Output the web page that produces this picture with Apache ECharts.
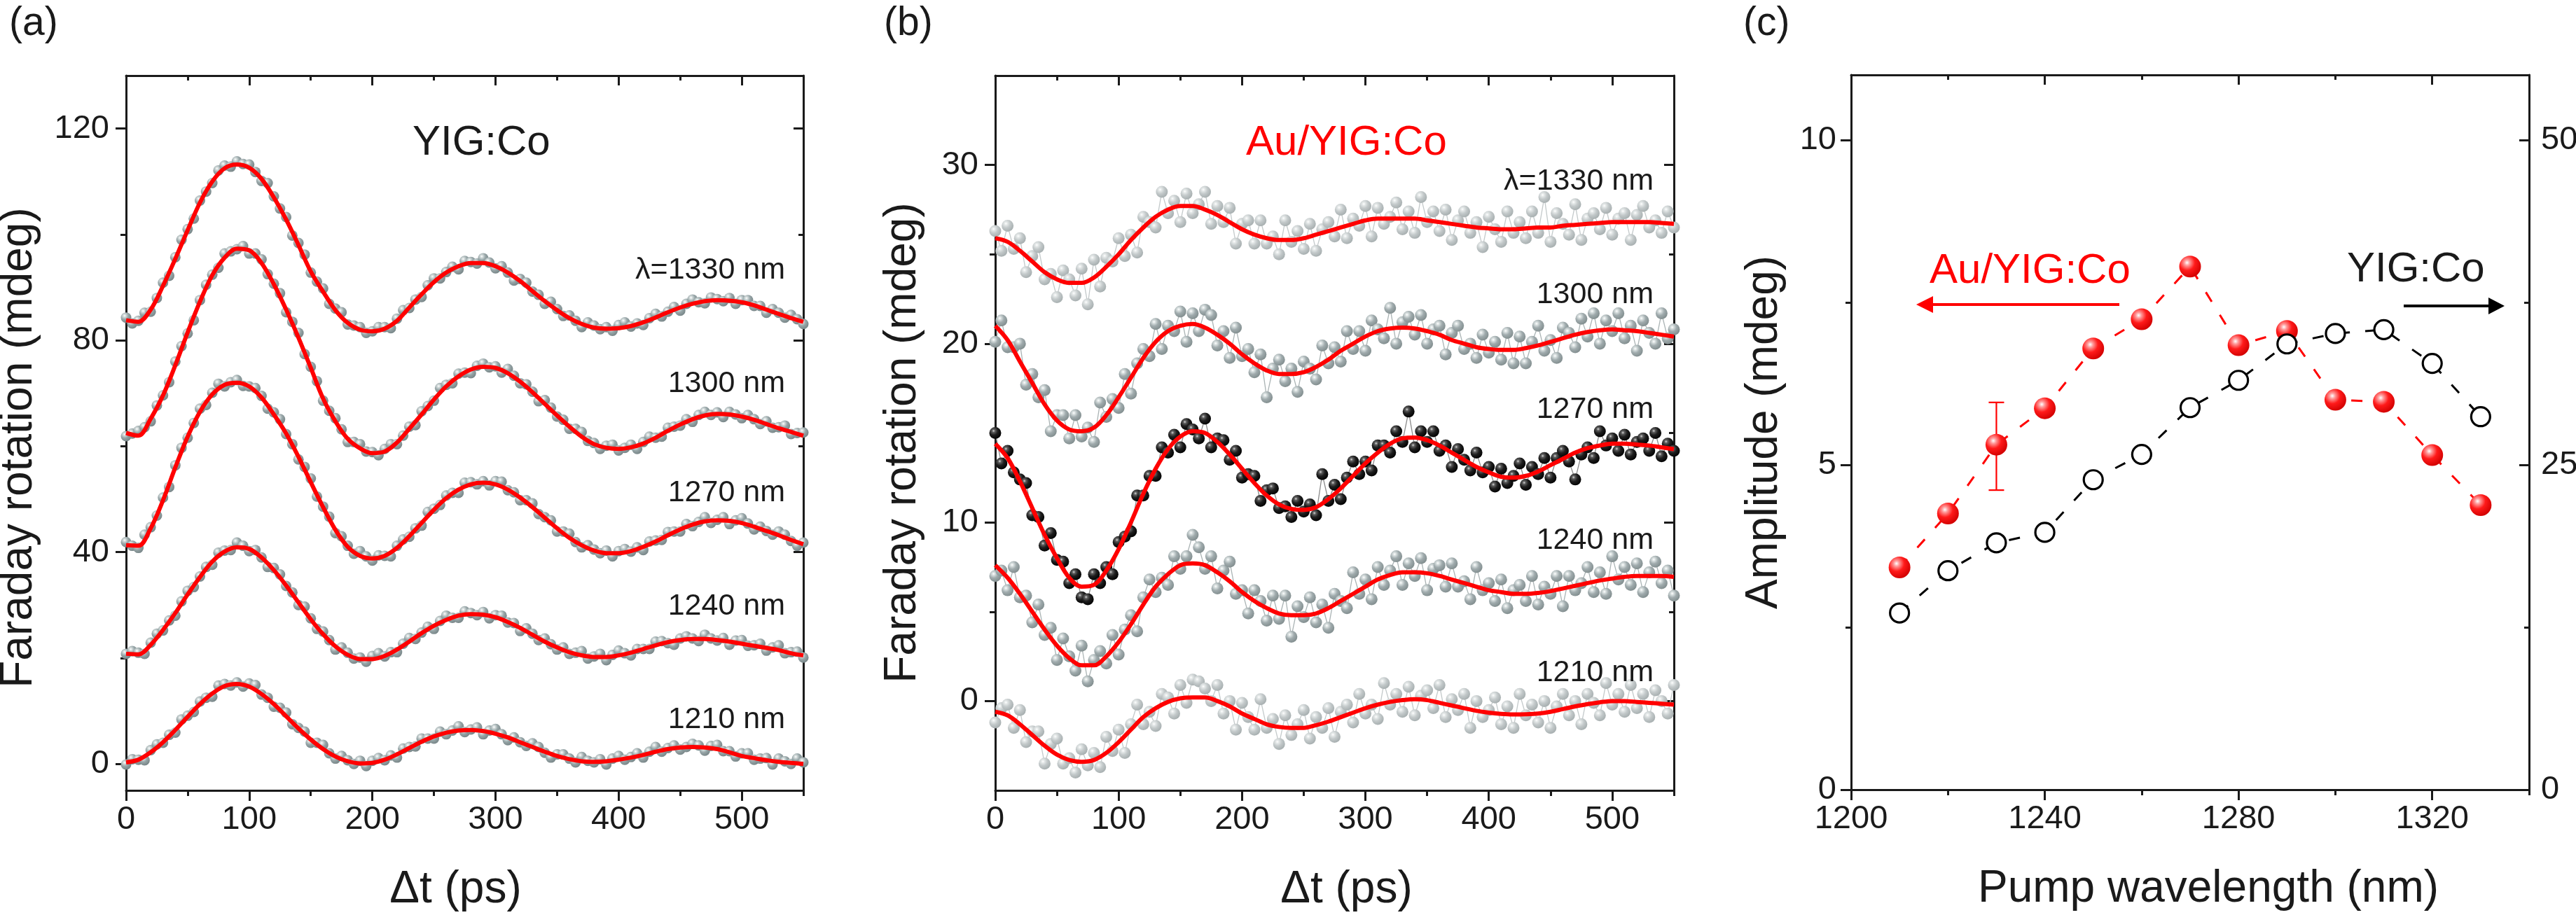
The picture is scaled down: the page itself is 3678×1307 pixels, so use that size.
<!DOCTYPE html>
<html><head><meta charset="utf-8">
<script src="https://cdn.jsdelivr.net/npm/echarts@6/dist/echarts.min.js"></script>
<style>html,body{margin:0;padding:0;background:#fff}#c{width:3678px;height:1307px}</style>
</head><body><div id="c"></div>
<script>
// ---------- DATA ----------
const tFit = [0,10,20,30,40,50,60,70,80,90,100,110,120,130,140,150,160,170,180,190,200,210,220,230,240,250,260,270,280,290,300,310,320,330,340,350,360,370,380,390,400,410,420,430,440,450,460,470,480,490,500,510,520,530,540,550];
const tData = [0,5,10,15,20,25,30,35,40,45,50,55,60,65,70,75,80,85,90,95,100,105,110,115,120,125,130,135,140,145,150,155,160,165,170,175,180,185,190,195,200,205,210,215,220,225,230,235,240,245,250,255,260,265,270,275,280,285,290,295,300,305,310,315,320,325,330,335,340,345,350,355,360,365,370,375,380,385,390,395,400,405,410,415,420,425,430,435,440,445,450,455,460,465,470,475,480,485,490,495,500,505,510,515,520,525,530,535,540,545,550];

// (a) YIG:Co fits
const fitA1330 = [83.8,83.5,85.8,90.3,95.4,100.8,106,110,112.5,113.2,112.6,110.5,107,102.8,98,93,89.2,85.7,83.3,82,81.7,82.2,83.7,86.2,88.7,91,92.8,94,94.6,94.6,94,92.8,91.2,89.3,87.4,85.7,84.2,83.1,82.4,82.2,82.3,82.7,83.4,84.3,85.3,86.2,86.9,87.4,87.6,87.5,87.2,86.6,85.8,85,84.2,83.5];
const fitA1300 = [62.5,62,65.2,69.6,75.3,81.5,87.3,92.3,95.6,97.3,97,94.6,90.6,85.8,80.5,74.8,69,64.7,61.4,59.6,58.7,59,60.7,63.3,66,68.8,71.3,73.2,74.5,75,74.8,73.8,72.2,70.2,68,65.8,63.7,61.8,60.4,59.7,59.5,59.8,60.5,61.6,62.9,64.1,65.1,65.8,66.1,66,65.6,65,64.2,63.4,62.7,62];
const fitA1270 = [41.3,41.2,44.5,49.8,56,61.8,66.5,69.8,71.6,72,71.3,69.2,66,62.4,58,53.2,48.5,44.2,41,39.3,38.8,39.3,40.8,43,45.5,48,50.2,51.8,52.8,53.1,52.8,51.8,50.3,48.5,46.5,44.5,42.7,41.3,40.3,39.8,39.8,40.2,41,42,43.2,44.3,45.2,45.8,46,45.9,45.5,44.8,44,43.2,42.3,41.5];
const fitA1240 = [20.8,20.7,22.5,25.3,28.5,32,35.3,38.2,40.1,40.9,40.6,39,36.6,33.7,30.5,27.3,24.5,22.2,20.6,19.8,19.8,20.4,21.6,23.1,24.7,26.1,27.2,28,28.3,28.2,27.7,26.8,25.7,24.4,23.1,22,21.1,20.5,20.2,20.2,20.5,21,21.7,22.4,23,23.4,23.6,23.6,23.4,23.1,22.7,22.3,21.9,21.5,20.9,20.5];
const fitA1210 = [0.3,0.8,2.2,4.1,6.4,8.9,11.3,13.3,14.7,15.1,14.6,13.2,11.3,9,6.7,4.6,2.8,1.4,0.5,0.1,0.2,0.8,1.8,3,4.2,5.2,5.9,6.3,6.4,6.2,5.7,5,4.1,3.2,2.3,1.5,0.9,0.5,0.4,0.5,0.8,1.2,1.7,2.3,2.8,3.1,3.2,3.1,2.8,2.2,1.5,1.1,0.7,0.4,0.2,0];

// (a) YIG:Co measured points
const datA1330 = [84.3,83.2,83.7,85.2,85.4,88.0,90.9,92.2,95.7,99.0,101.0,103.0,106.4,108.1,109.7,112.1,113.0,112.8,113.8,113.3,113.2,111.8,110.1,109.7,107.2,104.9,103.3,99.8,98.4,96.2,92.8,91.1,89.8,86.9,86.0,85.3,83.0,82.8,82.5,81.4,81.7,82.5,82.5,82.3,84.1,85.7,86.1,87.7,88.2,90.4,91.7,91.7,92.9,93.9,93.4,95.0,94.8,94.5,95.5,94.7,93.6,94.0,92.8,91.3,91.6,90.9,89.2,88.6,86.9,87.3,85.9,84.6,84.7,83.7,82.5,83.4,82.8,82.1,82.5,81.8,82.9,83.4,82.6,83.2,82.9,84.2,85.0,84.5,85.4,86.3,85.6,86.9,87.7,87.2,87.0,88.1,87.8,87.4,88.0,86.9,87.6,87.6,86.5,86.5,85.2,85.9,85.2,84.3,84.8,84.0,83.1];
const datA1300 = [61.9,62.4,62.9,63.6,64.7,67.7,69.6,72.1,76.0,78.9,81.3,83.8,87.6,90.5,92.4,93.7,96.4,96.8,97.2,97.8,96.4,96.4,95.3,92.5,90.7,88.9,85.3,83.5,81.4,77.4,75.0,72.3,68.6,66.7,65.3,63.2,60.8,60.8,60.4,59.0,58.9,58.3,59.5,60.4,60.4,62.0,63.7,64.0,66.6,67.6,68.6,71.0,71.6,71.9,73.7,73.9,73.8,75.2,75.6,74.9,75.1,73.9,74.6,73.3,71.9,71.7,70.3,68.5,68.7,67.3,65.6,65.0,63.3,63.3,62.7,61.0,60.6,59.5,60.1,60.3,59.2,59.7,60.3,59.5,60.8,61.8,61.6,61.8,63.5,63.7,63.9,65.1,64.6,65.9,66.5,65.9,66.4,65.5,66.5,66.0,65.3,65.9,65.1,64.2,64.7,63.5,63.6,63.9,62.3,62.5,62.6];
const datA1270 = [41.9,41.2,40.8,43.3,44.7,46.9,50.3,52.3,56.4,59.7,61.6,64.4,67.1,67.8,70.1,71.8,71.3,72.1,72.5,71.4,71.3,71.0,69.5,67.1,66.4,65.1,62.3,60.4,57.5,56.1,53.9,50.5,48.6,46.7,43.6,43.0,41.2,39.7,40.2,39.2,38.4,39.4,39.3,39.2,41.2,42.4,42.9,44.5,45.0,47.6,48.2,48.9,50.7,51.2,51.2,53.1,53.2,52.8,53.4,52.6,53.4,53.3,51.7,51.3,49.8,49.8,49.2,47.2,46.6,46.0,43.9,43.9,43.5,41.9,40.9,41.3,40.5,39.8,40.3,39.2,40.2,40.6,40.1,40.9,40.4,42.0,42.2,42.3,43.8,43.9,43.9,45.3,44.9,45.7,46.6,45.5,46.1,46.6,45.3,46.0,46.4,45.4,44.3,44.8,44.0,43.3,43.9,43.3,42.1,41.2,41.8];
const datA1240 = [20.8,21.3,21.0,20.8,22.9,24.6,25.2,27.1,28.0,30.7,32.7,33.4,35.4,37.2,37.6,39.9,40.3,40.4,41.8,41.2,40.2,40.4,39.0,37.2,37.0,35.8,33.6,32.4,30.0,29.7,27.5,25.5,25.0,23.4,21.6,22.0,21.0,19.9,20.1,19.3,20.4,20.9,20.3,21.1,21.1,22.7,23.8,23.6,24.8,25.9,25.5,27.0,28.0,27.6,27.6,28.8,28.5,28.1,28.7,27.5,28.1,28.0,26.7,26.6,25.1,25.6,24.6,23.4,23.7,22.6,21.6,22.0,20.8,21.0,21.3,19.9,20.3,20.8,19.6,20.6,21.4,20.9,20.5,21.7,21.7,21.7,23.1,23.2,22.8,22.5,23.7,24.1,23.7,23.2,24.4,23.7,23.3,23.8,22.5,23.3,23.4,22.3,22.4,22.7,21.4,22.0,22.4,20.9,21.1,21.2,20.1];
const datA1210 = [-0.1,0.9,0.8,0.7,2.6,3.7,4.0,5.5,5.9,8.4,9.1,9.8,11.8,12.5,12.7,14.8,15.1,14.8,15.4,14.6,15.2,14.9,13.1,12.5,10.8,10.6,9.7,7.5,6.8,6.1,4.0,4.0,3.6,2.0,1.0,1.5,0.7,0.0,0.6,-0.4,0.6,1.1,0.7,1.6,1.2,2.9,3.2,3.3,4.8,4.8,4.8,6.1,5.6,6.3,7.1,6.0,6.5,6.9,5.6,6.3,6.6,5.6,4.5,5.0,4.1,3.4,3.9,3.2,2.1,1.2,1.8,1.8,1.0,0.3,1.3,0.6,0.3,0.9,-0.1,1.0,1.5,0.8,1.3,2.0,1.2,2.3,3.2,2.3,3.0,3.5,2.7,3.2,3.8,3.5,2.5,3.4,3.6,2.4,2.4,1.4,2.0,2.0,0.8,1.0,1.1,-0.1,1.0,0.5,0.0,1.0,0.3];

// (b) Au/YIG:Co fits
const fitB1330 = [25.9,25.7,25.2,24.6,24,23.6,23.4,23.4,23.7,24.3,25,25.8,26.5,27.1,27.5,27.7,27.7,27.5,27.2,26.8,26.4,26.1,25.9,25.8,25.8,25.9,26.1,26.3,26.5,26.7,26.9,27,27,27,27,26.9,26.8,26.7,26.6,26.5,26.45,26.4,26.4,26.45,26.5,26.5,26.6,26.65,26.7,26.75,26.8,26.8,26.8,26.8,26.75,26.7];
const fitB1300 = [21,20.2,19,17.8,16.6,15.7,15.2,15.1,15.3,16,17,18.1,19.2,20.1,20.7,21,21.1,20.9,20.5,20,19.4,18.9,18.5,18.3,18.3,18.4,18.7,19.1,19.6,20,20.4,20.7,20.85,20.9,20.85,20.7,20.5,20.2,20,19.8,19.7,19.65,19.65,19.75,19.9,20.1,20.3,20.5,20.65,20.75,20.8,20.75,20.7,20.6,20.5,20.4];
const fitB1270 = [14.4,13.6,12.3,10.8,9.3,8,6.9,6.4,6.5,7.3,8.5,10,11.6,13,14.1,14.8,15.1,15,14.5,13.8,13,12.2,11.5,11,10.75,10.7,10.85,11.3,11.9,12.6,13.3,13.9,14.4,14.7,14.75,14.6,14.3,13.9,13.5,13.1,12.8,12.55,12.5,12.6,12.85,13.2,13.55,13.9,14.15,14.3,14.4,14.4,14.35,14.3,14.2,14.1];
const fitB1240 = [7.6,6.9,6,5,4,3.1,2.4,2,2,2.5,3.3,4.3,5.4,6.4,7.1,7.6,7.7,7.6,7.2,6.7,6.1,5.6,5.2,4.9,4.8,4.8,4.9,5.2,5.6,6,6.4,6.8,7.05,7.2,7.2,7.15,7,6.8,6.6,6.4,6.2,6.1,6,6,6.05,6.15,6.3,6.45,6.6,6.75,6.85,6.95,7,7,7,6.95];
const fitB1210 = [-0.6,-0.8,-1.3,-1.9,-2.5,-3,-3.3,-3.4,-3.3,-2.9,-2.3,-1.6,-0.9,-0.4,-0.05,0.15,0.2,0.2,0,-0.3,-0.7,-1,-1.3,-1.45,-1.5,-1.5,-1.35,-1.15,-0.9,-0.65,-0.4,-0.2,-0.05,0.05,0.1,0.05,-0.1,-0.25,-0.4,-0.55,-0.65,-0.72,-0.75,-0.74,-0.7,-0.6,-0.45,-0.3,-0.17,-0.07,0,0,-0.05,-0.1,-0.15,-0.2];

// (b) Au/YIG:Co measured points
const datB1330 = [26.3,25.2,26.6,25.3,25.9,24.0,24.9,25.4,23.6,23.9,22.6,24.1,23.6,22.7,24.2,22.2,24.7,23.2,24.8,24.6,25.9,24.9,26.1,25.1,27.1,26.8,26.5,28.5,27.3,28.0,26.8,28.4,27.3,27.8,28.5,26.7,27.7,26.8,27.6,25.6,26.7,26.9,25.6,26.9,25.6,26.0,25.0,26.9,25.7,26.3,25.3,26.7,25.2,26.4,26.8,26.0,27.5,25.9,27.0,26.6,27.7,26.0,27.6,26.7,27.1,27.9,26.4,27.4,26.2,28.2,26.8,27.4,26.3,27.5,25.8,26.9,27.4,26.2,26.8,25.4,27.1,26.4,25.7,27.4,26.2,26.8,25.9,27.4,26.2,28.2,25.7,27.3,26.7,26.1,27.8,25.8,27.0,27.3,26.4,27.6,26.1,27.0,27.3,25.8,27.2,27.7,26.5,26.9,26.2,27.4,26.5];
const datB1300 = [20.1,21.3,19.8,19.8,20.0,17.7,18.3,17.0,17.4,15.1,16.0,16.0,14.7,16.0,14.8,15.3,14.5,16.7,15.9,16.9,16.4,18.3,17.2,18.9,19.7,19.3,21.1,19.7,21.0,20.7,21.8,20.1,21.7,20.7,21.9,21.6,19.9,20.7,19.2,20.9,19.3,19.7,18.4,19.4,17.0,18.6,19.1,17.9,18.6,17.3,19.0,18.6,18.0,19.9,18.9,19.8,19.0,20.7,19.7,20.7,19.6,21.3,20.8,20.3,22.0,20.0,21.2,21.5,20.5,21.6,20.0,20.8,21.0,19.4,20.6,21.0,19.7,20.0,19.2,20.5,19.5,20.1,19.1,20.6,18.9,20.4,18.9,20.1,21.0,19.6,20.2,19.2,20.9,20.6,19.8,21.4,20.4,21.7,20.0,21.3,20.7,21.7,20.3,21.0,19.6,21.3,20.6,20.0,21.7,20.3,20.8];
const datB1270 = [15.0,13.3,14.0,12.8,12.4,12.2,10.4,10.3,8.7,9.4,7.9,7.8,6.6,7.1,5.8,5.7,7.1,6.6,7.5,7.1,8.9,9.2,9.5,11.5,11.5,12.6,12.6,14.2,13.9,14.9,14.2,15.5,15.2,14.7,15.8,14.2,14.7,14.6,13.5,14.0,12.5,12.7,12.6,11.2,11.8,11.9,10.8,10.9,10.3,11.2,10.6,11.0,10.4,12.7,11.2,12.1,11.3,12.5,13.4,12.7,13.4,12.9,14.3,14.3,13.9,15.1,14.5,16.2,14.2,15.1,14.5,15.1,14.0,14.3,13.1,14.1,13.5,12.9,13.9,12.8,13.1,12.0,13.0,12.2,12.6,13.3,12.1,13.1,12.7,13.6,12.5,13.6,14.0,13.4,12.4,13.8,14.2,13.6,15.1,14.3,14.7,14.0,14.9,13.8,14.5,14.7,14.0,15.0,13.7,14.4,14.0];
const datB1240 = [7.0,7.3,6.2,7.5,5.8,5.9,4.4,5.4,3.7,4.1,2.3,3.5,2.5,1.7,3.1,1.1,2.3,2.8,2.1,3.7,2.6,4.0,4.8,3.9,5.8,6.8,6.1,6.9,6.5,8.1,7.4,8.1,9.3,8.6,7.4,8.1,6.3,7.3,7.8,6.0,6.2,4.9,6.2,5.6,4.5,5.9,4.6,5.9,3.6,5.3,4.7,5.8,4.4,5.4,4.1,6.0,5.6,5.2,7.2,6.0,6.8,5.7,7.5,6.5,7.3,8.1,6.5,7.7,7.0,8.0,6.2,7.4,7.6,6.4,7.7,6.4,6.7,5.7,7.5,6.2,6.6,5.6,6.8,5.2,6.2,6.5,5.6,7.0,5.4,6.4,6.0,7.0,5.3,7.0,6.2,6.6,7.5,6.1,7.2,6.0,8.1,6.8,7.5,6.5,7.7,6.1,7.2,7.8,6.6,7.3,5.9];
const datB1210 = [-1.2,-0.4,-0.2,-1.5,-0.5,-2.3,-1.7,-1.7,-3.5,-2.4,-2.1,-3.5,-3.2,-4.0,-2.7,-3.6,-2.9,-3.7,-2.0,-2.8,-1.6,-2.9,-1.3,-0.2,-1.3,-0.6,-1.4,0.4,0.2,-0.7,0.9,-0.1,1.2,1.1,0.7,0.0,0.9,-0.7,0.0,-1.6,-0.1,-0.9,-1.6,0.1,-1.5,-1.0,-2.4,-0.8,-1.9,-1.3,-0.5,-2.1,-0.9,-1.5,-0.4,-2.0,-0.6,-0.2,-1.2,0.4,-0.7,-0.2,-1.0,1.0,-0.2,0.4,-0.6,0.8,-0.8,0.3,0.6,-0.4,0.9,-0.9,0.1,-0.5,0.4,-1.5,0.0,-0.9,-0.5,0.2,-1.3,-0.3,-1.5,0.4,-0.8,-0.2,-1.2,0.0,-1.5,-0.3,0.4,-0.8,0.0,-1.3,0.4,-0.1,-0.8,1.0,-0.2,0.4,-0.6,0.9,-0.4,0.4,-0.9,0.6,0.0,-0.7,0.9];

// (c) amplitude vs pump wavelength
const pumpWl = [1210,1220,1230,1240,1250,1260,1270,1280,1290,1300,1310,1320,1330];
const ampAu  = [3.42,4.25,5.31,5.87,6.79,7.24,8.05,6.84,7.06,6.0,5.97,5.15,4.38];
const ampYig = [13.6,16.85,19.0,19.8,23.85,25.8,29.4,31.5,34.3,35.1,35.4,32.8,28.7];
const errWl = [1230], errLow = [4.61], errHigh = [5.96];

// tick values
const ticksT = [0,100,200,300,400,500], minorT = [50,150,250,350,450,550];
const ticksA = [0,40,80,120], minorA = [20,60,100];
const ticksB = [0,10,20,30], minorB = [5,15,25];
const ticksWl = [1200,1240,1280,1320], minorWl = [1220,1260,1300,1340];
const ticksCL = [0,5,10], minorCL = [2.5,7.5];
const ticksCR = [0,25,50], minorCR = [12.5,37.5];
const curveLabels = ['λ=1330 nm','1300 nm','1270 nm','1240 nm','1210 nm'];

// ---------- STYLE HELPERS ----------
const INK = '#1a1a1a', RED = '#ff0000';
const FONT = '"Liberation Sans", Arial, Helvetica, sans-serif';
const TICK_FS = 47, NAME_FS = 64;
const pairs = (xs, ys) => ys.map((y, i) => [xs[i], y]);
function ball(c0, c1, c2, c3) {
  return {type:'radial', x:0.36, y:0.32, r:0.72, colorStops:[
    {offset:0, color:c0}, {offset:0.18, color:c1}, {offset:0.5, color:c2}, {offset:1, color:c3}]};
}
const ballGrayA  = ball('#ffffff', '#d3dbdb', '#97a5a7', '#768486');
const ballLight  = ball('#ffffff', '#e4e8e8', '#c3c9ca', '#a5adae');
const ballMid    = ball('#ffffff', '#d8dfdf', '#a0abad', '#808c8d');
const ballBlack  = ball('#d8d8d8', '#5e5e5e', '#1e1e1e', '#000000');
const ballRed    = ball('#ffffff', '#ff9a9a', '#ff1a1a', '#d00000');
const plainNum = v => String(v);

const xAxes = [], yAxes = [];
function axis(g, pos, min, max, vals, o) {
  const a = {
    type:'value', gridIndex:g, position:pos, min:min, max:max, silent:true,
    axisLine:{show:!!o.line, onZero:false, lineStyle:{color:INK, width:3}},
    axisTick:{show:true, inside:!!o.inside, length:o.len, customValues:vals, lineStyle:{color:INK, width:3}},
    axisLabel: o.labels ? {show:true, customValues:vals, margin:o.margin, color:INK, fontSize:TICK_FS, fontFamily:FONT, hideOverlap:false, formatter:plainNum} : {show:false},
    splitLine:{show:false}, splitArea:{show:false}, minorTick:{show:false}, axisPointer:{show:false}
  };
  if (o.name) {
    a.name = o.name; a.nameLocation = 'middle'; a.nameGap = o.nameGap; a.nameMoveOverlap = false;
    if (o.nameRotate !== undefined) a.nameRotate = o.nameRotate;
    a.nameTextStyle = {fontSize:NAME_FS, fontFamily:FONT, color:INK, padding:o.namePad || 0};
  }
  return a;
}
function add(list, a) { list.push(a); return list.length - 1; }

// panel (a)
const xa = add(xAxes, axis(0,'bottom',0,550,ticksT,{line:1,len:15,labels:1,margin:19,name:'Δt (ps)',nameGap:110,namePad:[0,26,0,0]}));
add(xAxes, axis(0,'bottom',0,550,minorT,{len:8}));
add(xAxes, axis(0,'top',0,550,ticksT,{line:1,inside:1,len:14}));
add(xAxes, axis(0,'top',0,550,minorT,{inside:1,len:7}));
const ya = add(yAxes, axis(0,'left',-5,130,ticksA,{line:1,len:15,labels:1,margin:24,name:'Faraday rotation (mdeg)',nameGap:121,nameRotate:90,namePad:[0,42,0,0]}));
add(yAxes, axis(0,'left',-5,130,minorA,{len:8}));
add(yAxes, axis(0,'right',-5,130,ticksA,{line:1,inside:1,len:14}));
add(yAxes, axis(0,'right',-5,130,minorA,{inside:1,len:7}));
// panel (b)
const xb = add(xAxes, axis(1,'bottom',0,550,ticksT,{line:1,len:15,labels:1,margin:19,name:'Δt (ps)',nameGap:110,namePad:[0,0,0,34]}));
add(xAxes, axis(1,'bottom',0,550,minorT,{len:8}));
add(xAxes, axis(1,'top',0,550,ticksT,{line:1,inside:1,len:14}));
add(xAxes, axis(1,'top',0,550,minorT,{inside:1,len:7}));
const yb = add(yAxes, axis(1,'left',-5,35,ticksB,{line:1,len:15,labels:1,margin:24,name:'Faraday rotation (mdeg)',nameGap:100,nameRotate:90,namePad:[0,28,0,0]}));
add(yAxes, axis(1,'left',-5,35,minorB,{len:8}));
add(yAxes, axis(1,'right',-5,35,ticksB,{line:1,inside:1,len:14}));
add(yAxes, axis(1,'right',-5,35,minorB,{inside:1,len:7}));
// panel (c)
const xc = add(xAxes, axis(2,'bottom',1200,1340,ticksWl,{line:1,len:15,labels:1,margin:19,name:'Pump wavelength (nm)',nameGap:110,namePad:[0,0,0,52]}));
add(xAxes, axis(2,'bottom',1200,1340,minorWl,{len:8}));
add(xAxes, axis(2,'top',1200,1340,ticksWl,{line:1,inside:1,len:14}));
add(xAxes, axis(2,'top',1200,1340,minorWl,{inside:1,len:7}));
const ycL = add(yAxes, axis(2,'left',0,11,ticksCL,{line:1,len:15,labels:1,margin:21,name:'Amplitude (mdeg)',nameGap:92,nameRotate:90}));
add(yAxes, axis(2,'left',0,11,minorCL,{len:8}));
const ycR = add(yAxes, axis(2,'right',0,55,ticksCR,{line:1,inside:1,len:14,labels:1,margin:17}));
add(yAxes, axis(2,'right',0,55,minorCR,{inside:1,len:7}));

// ---------- SERIES ----------
const series = [];
function dots(xi, yi, ys, color, size, lineColor) {
  series.push({
    type:'line', xAxisIndex:xi, yAxisIndex:yi, data:pairs(tData, ys),
    symbol:'circle', symbolSize:size, showSymbol:true, showAllSymbol:true,
    itemStyle:{color:color, borderWidth:0},
    lineStyle: lineColor ? {color:lineColor, width:1.3} : {width:0, opacity:0},
    z:2, silent:true, emphasis:{disabled:true}
  });
}
function fit(xi, yi, ys) {
  series.push({
    type:'line', xAxisIndex:xi, yAxisIndex:yi, data:pairs(tFit, ys), smooth:0.35,
    showSymbol:false, symbol:'none', lineStyle:{color:RED, width:6}, z:3, silent:true, emphasis:{disabled:true}
  });
}
[datA1330, datA1300, datA1270, datA1240, datA1210].forEach(d => dots(xa, ya, d, ballGrayA, 15, null));
[fitA1330, fitA1300, fitA1270, fitA1240, fitA1210].forEach(f => fit(xa, ya, f));

dots(xb, yb, datB1330, ballLight, 17, '#c3c9ca');
dots(xb, yb, datB1300, ballMid, 17, '#aab3b4');
dots(xb, yb, datB1270, ballBlack, 17, '#8a8a8a');
dots(xb, yb, datB1240, ballMid, 17, '#aab3b4');
dots(xb, yb, datB1210, ballLight, 17, '#c3c9ca');
[fitB1330, fitB1300, fitB1270, fitB1240, fitB1210].forEach(f => fit(xb, yb, f));

series.push({
  type:'custom', xAxisIndex:xc, yAxisIndex:ycL, z:4, silent:true,
  data: errWl.map((w, i) => [w, errLow[i], errHigh[i]]),
  encode:{x:0, y:[1,2]},
  renderItem: function (params, api) {
    const x = api.value(0), lo = api.coord([x, api.value(1)]), hi = api.coord([x, api.value(2)]);
    const w = 11, st = {stroke:RED, lineWidth:2.2};
    return {type:'group', children:[
      {type:'line', shape:{x1:lo[0], y1:lo[1], x2:hi[0], y2:hi[1]}, style:st},
      {type:'line', shape:{x1:lo[0]-w, y1:lo[1], x2:lo[0]+w, y2:lo[1]}, style:st},
      {type:'line', shape:{x1:hi[0]-w, y1:hi[1], x2:hi[0]+w, y2:hi[1]}, style:st}
    ]};
  }
});
series.push({
  type:'line', xAxisIndex:xc, yAxisIndex:ycL, data:pairs(pumpWl, ampAu),
  symbol:'circle', symbolSize:31, itemStyle:{color:ballRed, borderWidth:0},
  lineStyle:{color:RED, width:3, type:[16,22]}, z:5, silent:true, emphasis:{disabled:true}
});
series.push({
  type:'line', xAxisIndex:xc, yAxisIndex:ycR, data:pairs(pumpWl, ampYig),
  symbol:'circle', symbolSize:27, itemStyle:{color:'#ffffff', borderColor:'#000000', borderWidth:3.2},
  lineStyle:{color:'#000000', width:3, type:[16,22]}, z:6, silent:true, emphasis:{disabled:true}
});

// ---------- ANNOTATIONS ----------
function txt(x, y, s, size, color, align) {
  return {type:'text', x:x, y:y, z:10, silent:true, style:{text:s, font:size + 'px ' + FONT, fill:color,
    align:align, verticalAlign:'middle', textAlign:align, textVerticalAlign:'middle'}};
}
const labelYa = [386, 548, 704, 866, 1028];
const labelYb = [259, 421, 585, 772, 961];
const graphics = [
  txt(13, 34, '(a)', 57, INK, 'left'),
  txt(1262, 34, '(b)', 57, INK, 'left'),
  txt(2489, 34, '(c)', 57, INK, 'left'),
  txt(589, 204, 'YIG:Co', 60, INK, 'left'),
  txt(1779, 204, 'Au/YIG:Co', 60, RED, 'left'),
  txt(2755, 387, 'Au/YIG:Co', 60, RED, 'left'),
  txt(3351, 385, 'YIG:Co', 60, INK, 'left'),
  {type:'line', z:10, silent:true, shape:{x1:2756, y1:435, x2:3026, y2:435}, style:{stroke:RED, lineWidth:4}},
  {type:'polygon', z:10, silent:true, shape:{points:[[2736,435],[2760,423],[2760,447]]}, style:{fill:RED}},
  {type:'line', z:10, silent:true, shape:{x1:3432, y1:437, x2:3556, y2:437}, style:{stroke:'#000', lineWidth:4}},
  {type:'polygon', z:10, silent:true, shape:{points:[[3576,437],[3553,425],[3553,449]]}, style:{fill:'#000'}}
];
curveLabels.forEach((s, i) => {
  graphics.push(txt(1121, labelYa[i], s, 43, INK, 'right'));
  graphics.push(txt(2361, labelYb[i], s, 43, INK, 'right'));
});

const chart = echarts.init(document.getElementById('c'), null, {renderer:'canvas'});
chart.setOption({
  animation:false,
  backgroundColor:'#ffffff',
  grid:[
    {left:180, top:108, width:967, height:1021, containLabel:false, outerBoundsMode:'none'},
    {left:1421, top:108, width:969, height:1021, containLabel:false, outerBoundsMode:'none'},
    {left:2643, top:107, width:968, height:1021, containLabel:false, outerBoundsMode:'none'}
  ],
  xAxis:xAxes, yAxis:yAxes, series:series, graphic:graphics
});
</script></body></html>
